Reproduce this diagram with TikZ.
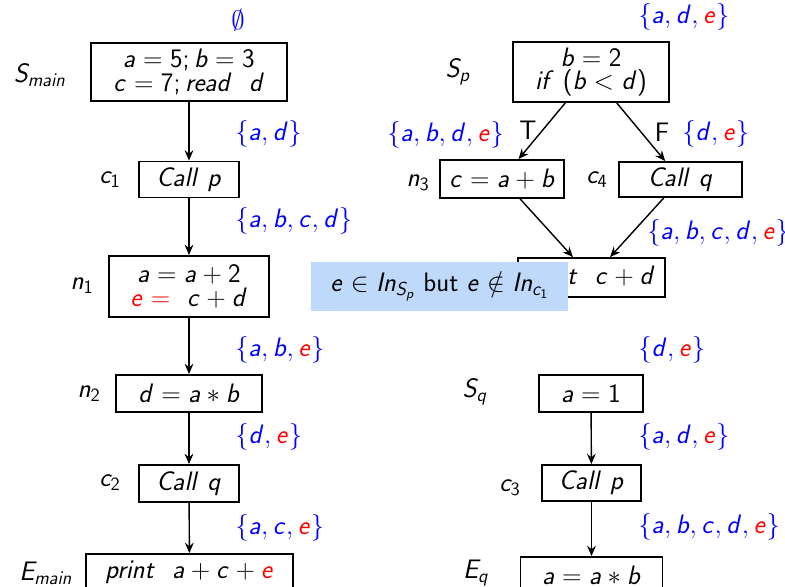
\documentclass[tikz,border=0pt]{standalone}
\usepackage{fix-cm}
\usetikzlibrary{arrows.meta}
\definecolor{NoteBlue}{HTML}{BFD9FA}
\definecolor{SetBlue}{HTML}{0000FF}
% sans serif slanted letters in math
\DeclareSymbolFont{operators}{OT1}{cmss}{m}{n}
\DeclareSymbolFont{sfit}{OT1}{cmss}{m}{sl}
\makeatletter
\def\sfletter#1{\DeclareMathSymbol{#1}{\mathalpha}{sfit}{`#1}}
\@tfor\x:=abcdefghijklmnopqrstuvwxyzABCDEFGHIJKLMNOPQRSTUVWXYZ\do{\expandafter\sfletter\x}
\makeatother

\begin{document}
\begin{tikzpicture}[
    x=0.025cm,y=-0.025cm,
    font=\sffamily\fontsize{19}{17}\selectfont,
    box/.style={draw,line width=1.3pt,inner sep=0pt,align=center},
    set/.style={anchor=west,inner sep=0pt,text=SetBlue},
    arrow/.style={-{Stealth[length=2.6mm,width=2.2mm,inset=0.9mm]},line width=1pt}
  ]
    \useasboundingbox (0,0) rectangle (785,587);
    \clip (0,0) rectangle (785,587);
    % main
    \node[box,minimum width=4.9cm,minimum height=1.45cm] (smain) at (189,72)
      {$a=5; b=3$\\$c=7; read\ \ d$};
    \node[box,minimum width=2.5cm,minimum height=0.9cm] (c1) at (189,179.5) {$Call\ p$};
    \node[box,minimum width=4cm,minimum height=1.525cm] (n1) at (189,286.5)
      {$a=a+2$\\\textcolor{red}{$e=$}\ \ $c+d$};
    \node[box,minimum width=3.65cm,minimum height=0.925cm] (n2) at (189,393.5) {$d=a\ast b$};
    \node[box,minimum width=2.5cm,minimum height=0.925cm] (c2) at (189,483.5) {$Call\ q$};
    \node[box,minimum width=5.175cm,minimum height=0.925cm] (emain) at (189.5,572.5)
      {$print\ \ a+c+\textcolor{red}{e}$};
    \node (lsmain) at (40,75) {$S_{main}$};
    \node (lc1) at (110,180) {$c_1$};
    \node (ln1) at (82,286) {$n_1$};
    \node (ln2) at (89,394) {$n_2$};
    \node (lc2) at (110,483) {$c_2$};
    \node (lemain) at (46,573) {$E_{main}$};
    \node[text=SetBlue] (in0) at (238,20) {$\emptyset$};
    \node[set] (in1) at (235,134) {$\{a,d\}$};
    \node[set] (in2) at (235,221) {$\{a,b,c,d\}$};
    \node[set] (in3) at (235,350) {$\{a,b,\textcolor{red}{e}\}$};
    \node[set] (in4) at (235,437) {$\{d,\textcolor{red}{e}\}$};
    \node[set] (in5) at (235,528) {$\{a,c,\textcolor{red}{e}\}$};
    \draw[arrow] (smain) -- (c1);
    \draw[arrow] (c1) -- (n1);
    \draw[arrow] (n1) -- (n2);
    \draw[arrow] (n2) -- (c2);
    \draw[arrow] (c2) -- (emain);
    % p
    \node[box,minimum width=3.9cm,minimum height=1.5cm] (sp) at (591,72)
      {$b=2$\\$if\ (b<d)$};
    \node[box,minimum width=3.1cm,minimum height=0.95cm] (n3) at (502,179) {$c=a+b$};
    \node[box,minimum width=3.075cm,minimum height=0.875cm] (c4) at (680.5,179.5) {$Call\ q$};
    \node[box,minimum width=3.675cm,minimum height=0.975cm] (print) at (591.5,277.5)
      {$print\ \ c+d$};
    \node (lsp) at (458,72) {$S_p$};
    \node (ln3) at (418,183) {$n_3$};
    \node (lc4) at (597,180) {$c_4$};
    \node (lt) at (528,130) {T};
    \node (lf) at (662,132) {F};
    \node[set] (inp) at (638,17) {$\{a,d,\textcolor{red}{e}\}$};
    \node[set] (inn3) at (387,135) {$\{a,b,d,\textcolor{red}{e}\}$};
    \node[set] (inc4) at (682,134) {$\{d,\textcolor{red}{e}\}$};
    \node[set] (inpr) at (647,233) {$\{a,b,c,d,\textcolor{red}{e}\}$};
    \draw[arrow] (sp) -- (n3);
    \draw[arrow] (sp) -- (c4);
    \draw[arrow] (n3) -- (print);
    \draw[arrow] (c4) -- (print);
    % note
    \node[fill=NoteBlue,minimum width=6.425cm,minimum height=1.225cm] (note) at (439.5,286.5)
      {$e\in In_{S_p}$ but $e\notin In_{c_1}$};
    % q
    \node[box,minimum width=2.6cm,minimum height=0.925cm] (sq) at (591,393.5) {$a=1$};
    \node[box,minimum width=2.475cm,minimum height=0.9cm] (c3) at (591.5,483) {$Call\ p$};
    \node[box,minimum width=3.55cm,minimum height=0.925cm] (eq) at (591.5,575.5) {$a=a\ast b$};
    \node (lsq) at (475,392) {$S_q$};
    \node (lc3) at (510,488) {$c_3$};
    \node (leq) at (476,573) {$E_q$};
    \node[set] (inq) at (638,350) {$\{d,\textcolor{red}{e}\}$};
    \node[set] (inc3) at (638,437) {$\{a,d,\textcolor{red}{e}\}$};
    \node[set] (ineq) at (638,527) {$\{a,b,c,d,\textcolor{red}{e}\}$};
    \draw[arrow] (sq) -- (c3);
    \draw[arrow] (c3) -- (eq);
  \end{tikzpicture}
\end{document}
